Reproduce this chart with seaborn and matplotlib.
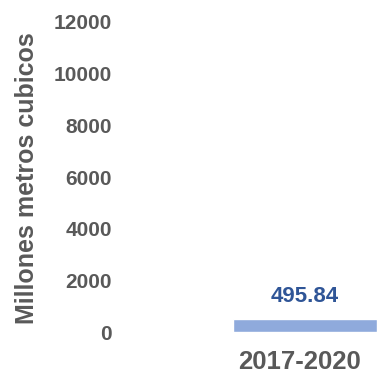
import matplotlib
matplotlib.use("Agg")
import matplotlib.pyplot as plt
import matplotlib.transforms as mtransforms
import seaborn as sns

# Datos
periodos = ["2017-2020"]
valores = [495.84]
ticks_y = [0, 2000, 4000, 6000, 8000, 10000, 12000]

sns.set_theme(style="white")
plt.rcParams["font.family"] = ["Liberation Sans", "DejaVu Sans"]
plt.rcParams["font.weight"] = "bold"

gris = "#595959"
azul_barra = "#8faadc"
azul_texto = "#2f5597"

fig = plt.figure(figsize=(3.77, 3.76), dpi=100)
ax = fig.add_axes([120 / 377, 0.117, 1 - 120 / 377, 0.8245])

sns.barplot(x=periodos, y=valores, color=azul_barra, width=0.8,
            saturation=1, ax=ax)

ax.set_xlim(-1.028, 0.4)
ax.set_ylim(0, 12000)
ax.set_yticks(ticks_y)
ax.set_yticklabels([str(t) for t in ticks_y])

ax.tick_params(axis="y", length=0, pad=6, labelsize=15, labelcolor=gris)
ax.tick_params(axis="x", length=0, pad=13, labelsize=18.5, labelcolor=gris)
desplaza = mtransforms.ScaledTranslation(-6 / 100, 0, fig.dpi_scale_trans)
for lab in ax.get_xticklabels():
    lab.set_fontweight("bold")
    lab.set_transform(lab.get_transform() + desplaza)
for lab in ax.get_yticklabels():
    lab.set_fontweight("bold")

ax.bar_label(ax.containers[0], labels=[f"{v:.2f}" for v in valores],
             padding=9, fontsize=16, fontweight="bold", color=azul_texto)

ax.set_xlabel("")
ax.set_ylabel("Millones metros cubicos", fontsize=18, fontweight="bold",
              color=gris)
ax.yaxis.set_label_coords((39 - 120) / 257, 0.495)

for s in ax.spines.values():
    s.set_visible(False)

fig.savefig("out.png", dpi=100, facecolor="white")
